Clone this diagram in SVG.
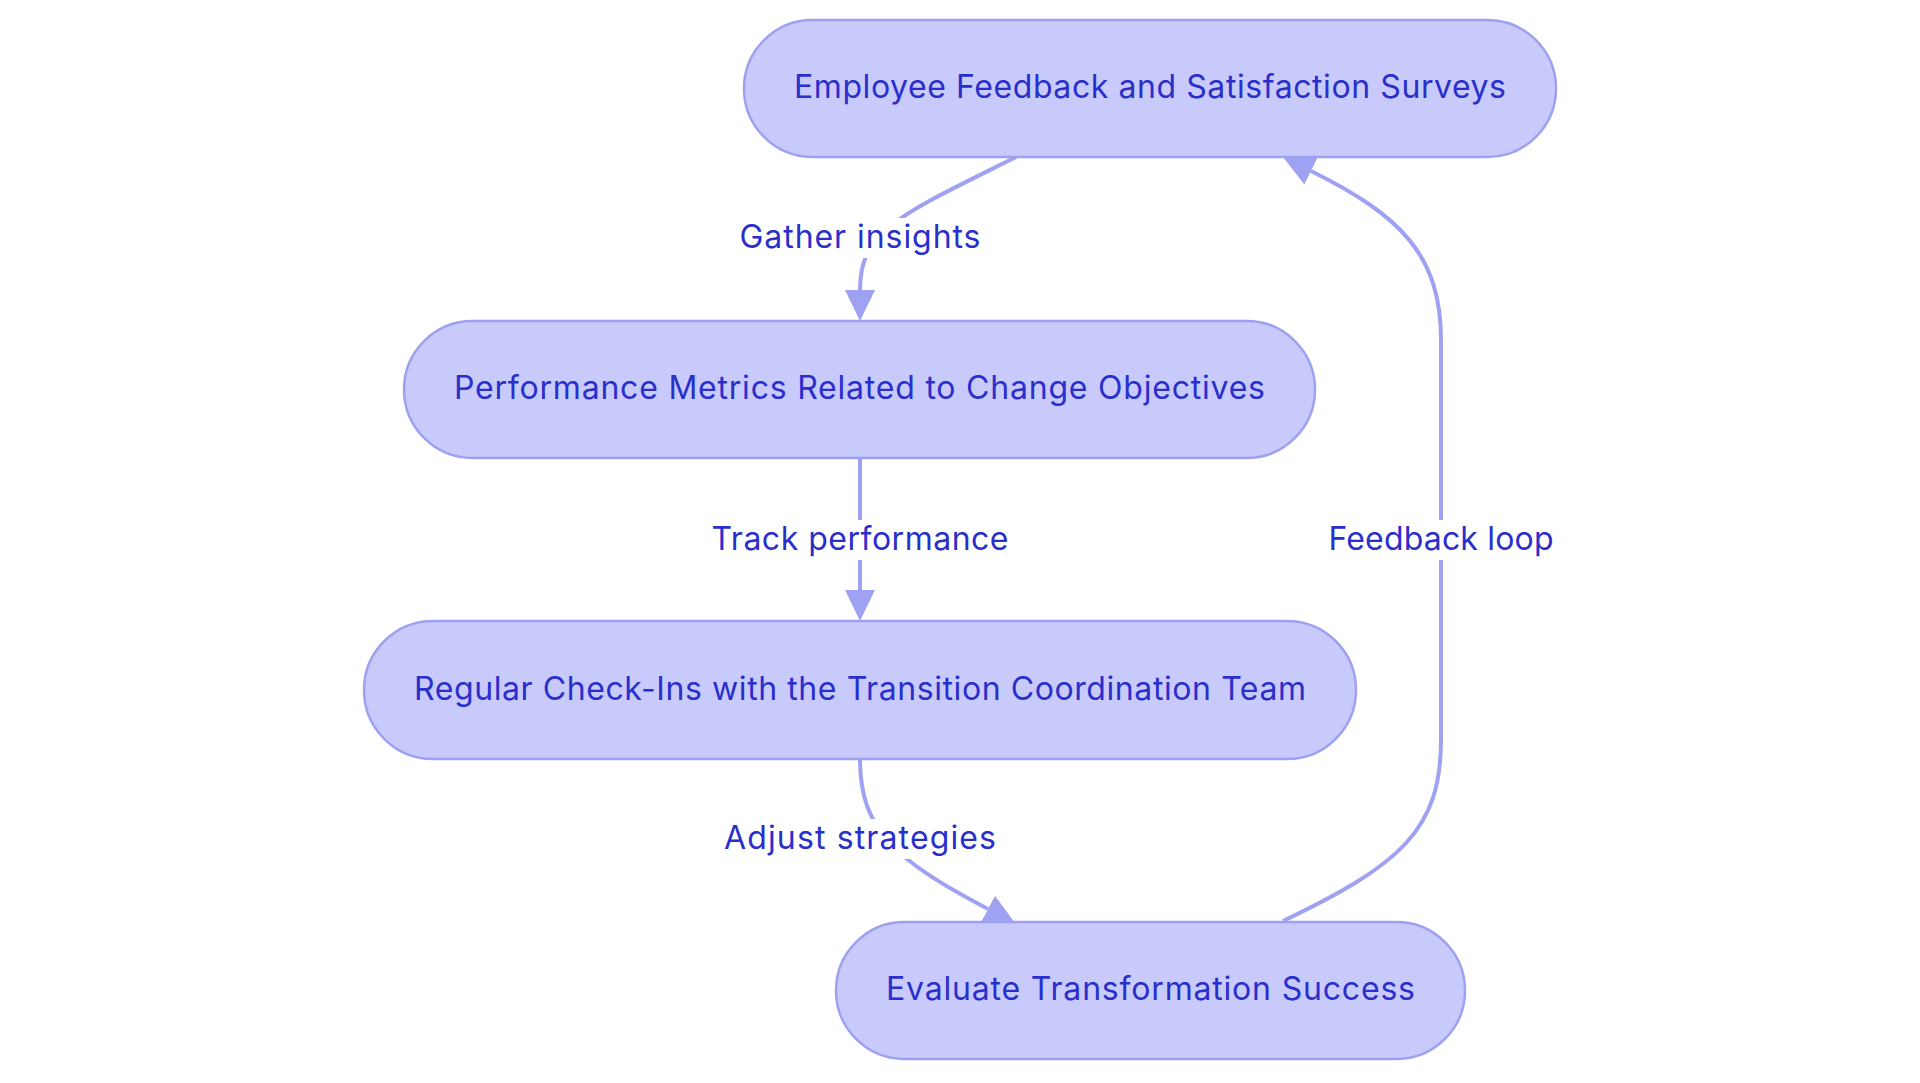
<svg xmlns="http://www.w3.org/2000/svg" width="1920" height="1083" viewBox="0 0 1920 1083">
<style>
.node rect{fill:#c9cafc;stroke:#9ea1f0;stroke-width:2.5}
.node text,.lbl text{font-family:Inter,"Noto Sans","Liberation Sans",sans-serif;font-size:32px;fill:#2a2fcc;text-anchor:middle}
.edge{fill:none;stroke:#9fa2f2;stroke-width:4}
.lbl rect{fill:#ffffff}
</style>
<defs>
<marker id="arr" markerUnits="userSpaceOnUse" markerWidth="32" markerHeight="32" viewBox="0 0 32 30" refX="0" refY="15" orient="auto">
<path d="M0,0 L31,15 L0,30 z" fill="#9fa2f2"/>
</marker>
</defs>
<rect width="1920" height="1083" fill="#ffffff"/>
<g id="connectors">
<path class="edge" d="M1016,157 C900,215 860,230 860,290" marker-end="url(#arr)"/>
<path class="edge" d="M860,458 L860,590" marker-end="url(#arr)"/>
<path class="edge" d="M860,759 C860,830 895,860 988,909" marker-end="url(#arr)"/>
<path class="edge" d="M1283,921 C1400,865 1441,830 1441,740 L1441,340 C1441,255 1400,215 1311,171" marker-end="url(#arr)"/>
<g class="lbl"><rect x="736" y="218" width="248" height="40"/><text x="860" y="248" textLength="241" lengthAdjust="spacing">Gather insights</text></g>
<g class="lbl"><rect x="708" y="520" width="304" height="40"/><text x="860" y="550" textLength="297" lengthAdjust="spacing">Track performance</text></g>
<g class="lbl"><rect x="721" y="819" width="278" height="40"/><text x="860" y="849" textLength="272" lengthAdjust="spacing">Adjust strategies</text></g>
<g class="lbl"><rect x="1327" y="520" width="228" height="40"/><text x="1441" y="550" textLength="225" lengthAdjust="spacing">Feedback loop</text></g>
</g>
<g id="n1" class="node"><rect x="744" y="20" width="812" height="137" rx="68.5"/><text x="1150" y="98" textLength="712" lengthAdjust="spacing">Employee Feedback and Satisfaction Surveys</text></g>
<g id="n2" class="node"><rect x="404" y="321" width="911" height="137" rx="68.5"/><text x="859.5" y="399" textLength="811" lengthAdjust="spacing">Performance Metrics Related to Change Objectives</text></g>
<g id="n3" class="node"><rect x="364" y="621" width="992" height="138" rx="69"/><text x="860" y="700" textLength="892" lengthAdjust="spacing">Regular Check-Ins with the Transition Coordination Team</text></g>
<g id="n4" class="node"><rect x="836" y="922" width="629" height="137" rx="68.5"/><text x="1150.5" y="1000" textLength="529" lengthAdjust="spacing">Evaluate Transformation Success</text></g>
</svg>
